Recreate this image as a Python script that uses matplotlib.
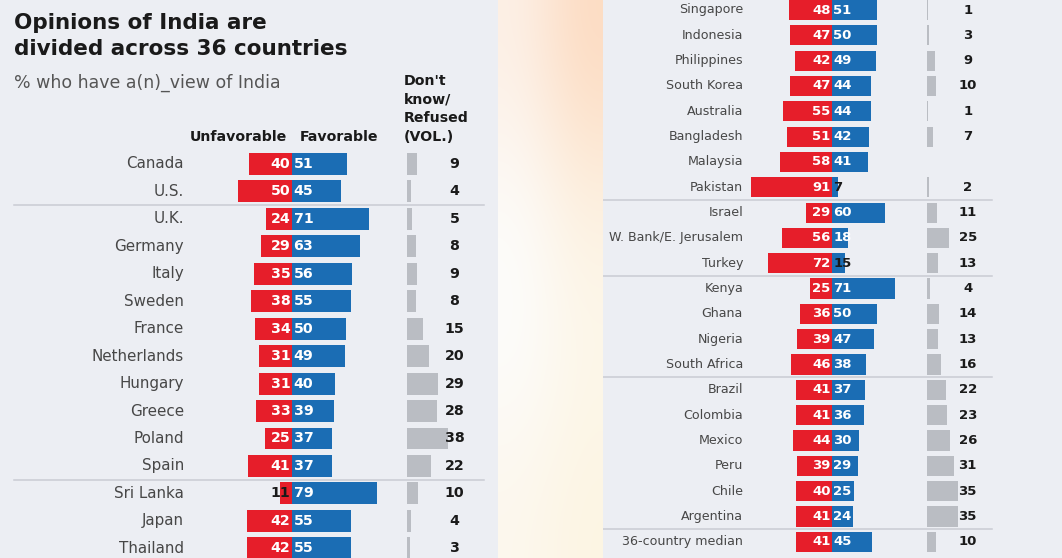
import numpy as np
import matplotlib
matplotlib.use("Agg")
import matplotlib.pyplot as plt

# -------------------------------
# Data
# -------------------------------
left_countries = ["Canada", "U.S.", "U.K.", "Germany", "Italy", "Sweden", "France",
                  "Netherlands", "Hungary", "Greece", "Poland", "Spain",
                  "Sri Lanka", "Japan", "Thailand"]
left_unfav = [40, 50, 24, 29, 35, 38, 34, 31, 31, 33, 25, 41, 11, 42, 42]
left_fav = [51, 45, 71, 63, 56, 55, 50, 49, 40, 39, 37, 37, 79, 55, 55]
left_dk = [9, 4, 5, 8, 9, 8, 15, 20, 29, 28, 38, 22, 10, 4, 3]
left_groups_end = [1, 11]          # separator after these rows

right_countries = ["Singapore", "Indonesia", "Philippines", "South Korea", "Australia",
                   "Bangladesh", "Malaysia", "Pakistan", "Israel",
                   "W. Bank/E. Jerusalem", "Turkey", "Kenya", "Ghana", "Nigeria",
                   "South Africa", "Brazil", "Colombia", "Mexico", "Peru", "Chile",
                   "Argentina", "36-country median"]
right_unfav = [48, 47, 42, 47, 55, 51, 58, 91, 29, 56, 72, 25, 36, 39, 46, 41, 41, 44,
               39, 40, 41, 41]
right_fav = [51, 50, 49, 44, 44, 42, 41, 7, 60, 18, 15, 71, 50, 47, 38, 37, 36, 30,
             29, 25, 24, 45]
right_dk = [1, 3, 9, 10, 1, 7, None, 2, 11, 25, 13, 4, 14, 13, 16, 22, 23, 26, 31,
            35, 35, 10]
right_groups_end = [7, 10, 14, 20]

dk_header = ["Don't", "know/", "Refused", "(VOL.)"]

# -------------------------------
# Style
# -------------------------------
RED = "#e61e2a"
BLUE = "#1b6db4"
GRAY_BAR = "#babdc3"
PANEL_BG = "#eceef3"
SEP = "#c9ccd3"
LABEL = "#474747"
DARK = "#1a1a1a"

plt.rcParams["font.family"] = "DejaVu Sans"

W, H = 1062, 558
fig = plt.figure(figsize=(W / 100, H / 100), dpi=100)
fig.patch.set_facecolor(PANEL_BG)


def fy(px):
    """pixel row (from the top) -> figure fraction"""
    return 1 - px / H


# blurry middle strip between the two screenshots
ax_mid = fig.add_axes([498 / W, 0, 105 / W, 1])
grad = np.array([
    [[0.99, 0.94, 0.90], [0.99, 0.86, 0.76]],
    [[0.99, 0.99, 0.98], [0.99, 0.95, 0.89]],
    [[0.99, 0.99, 0.99], [0.99, 0.97, 0.92]],
    [[0.99, 0.97, 0.93], [0.99, 0.96, 0.89]],
])
ax_mid.imshow(grad, aspect="auto", interpolation="bicubic", extent=(0, 1, 0, 1))
ax_mid.set_axis_off()


def draw_panel(ax, countries, unfav, fav, dk, groups_end, fs_label, fs_val, dk_x,
               dk_text_x, label_x, sep_x0, sep_x1, bar_h):
    y = np.arange(len(countries))
    ax.barh(y, [-u for u in unfav], height=bar_h, color=RED, linewidth=0)
    ax.barh(y, fav, height=bar_h, color=BLUE, linewidth=0)
    dk_vals = [d if d is not None else 0 for d in dk]
    ax.barh(y, dk_vals, left=dk_x, height=bar_h, color=GRAY_BAR, linewidth=0)
    for i, name in enumerate(countries):
        ax.text(label_x, i, name, ha="right", va="center", fontsize=fs_label,
                color=LABEL)
        u_col = DARK if unfav[i] < 15 else "white"
        f_col = DARK if fav[i] < 16 else "white"
        ax.text(-1.5, i, str(unfav[i]), ha="right", va="center", fontsize=fs_val,
                color=u_col, fontweight="bold")
        ax.text(1.5, i, str(fav[i]), ha="left", va="center", fontsize=fs_val,
                color=f_col, fontweight="bold")
        if dk[i] is not None:
            ax.text(dk_text_x, i, str(dk[i]), ha="center", va="center",
                    fontsize=fs_val, color=DARK, fontweight="bold")
    for g in groups_end:
        ax.plot([sep_x0, sep_x1], [g + 0.5, g + 0.5], color=SEP, lw=1.1)
    ax.set_axis_off()


# left panel: centre at x=292px, 1.08 px per percentage point
ax_l = fig.add_axes([0, 0, 498 / W, 1])
ax_l.set_facecolor(PANEL_BG)
ax_l.set_xlim(-292 / 1.08, (498 - 292) / 1.08)
ax_l.set_ylim((H - 164) / 27.45, -164 / 27.45)
draw_panel(ax_l, left_countries, left_unfav, left_fav, left_dk, left_groups_end,
           fs_label=10.9, fs_val=10.2, dk_x=106.5, dk_text_x=150.5, label_x=-100,
           sep_x0=-257, sep_x1=178, bar_h=0.8)

# right panel: centre at x=832px, 0.89 px per percentage point
ax_r = fig.add_axes([603 / W, 0, (W - 603) / W, 1])
ax_r.set_facecolor(PANEL_BG)
ax_r.set_xlim(-229 / 0.89, (W - 603 - 229) / 0.89)
ax_r.set_ylim((H - 10) / 25.33, -10 / 25.33)
draw_panel(ax_r, right_countries, right_unfav, right_fav, right_dk, right_groups_end,
           fs_label=9.1, fs_val=9.5, dk_x=106.5, dk_text_x=152.5, label_x=-100,
           sep_x0=-258, sep_x1=180, bar_h=0.8)

# column headers of the left panel
fig.text(287 / W, fy(141), "Unfavorable", ha="right", va="baseline", fontsize=10.2,
         fontweight="bold", color=DARK)
fig.text(300 / W, fy(141), "Favorable", ha="left", va="baseline", fontsize=10.2,
         fontweight="bold", color=DARK)
for k, line in enumerate(dk_header):
    fig.text(404 / W, fy(85 + 18.7 * k), line, ha="left", va="baseline",
             fontsize=10.2, fontweight="bold", color=DARK)

# title and subtitle
fig.text(14 / W, fy(29), "Opinions of India are", ha="left", va="baseline",
         fontsize=15.5, fontweight="bold", color=DARK)
fig.text(14 / W, fy(55), "divided across 36 countries", ha="left", va="baseline",
         fontsize=15.5, fontweight="bold", color=DARK)
fig.text(14 / W, fy(88), "% who have a(n)_view of India", ha="left",
         va="baseline", fontsize=12.5, color="#555555")

fig.savefig("out.png", dpi=100, facecolor=fig.get_facecolor())
